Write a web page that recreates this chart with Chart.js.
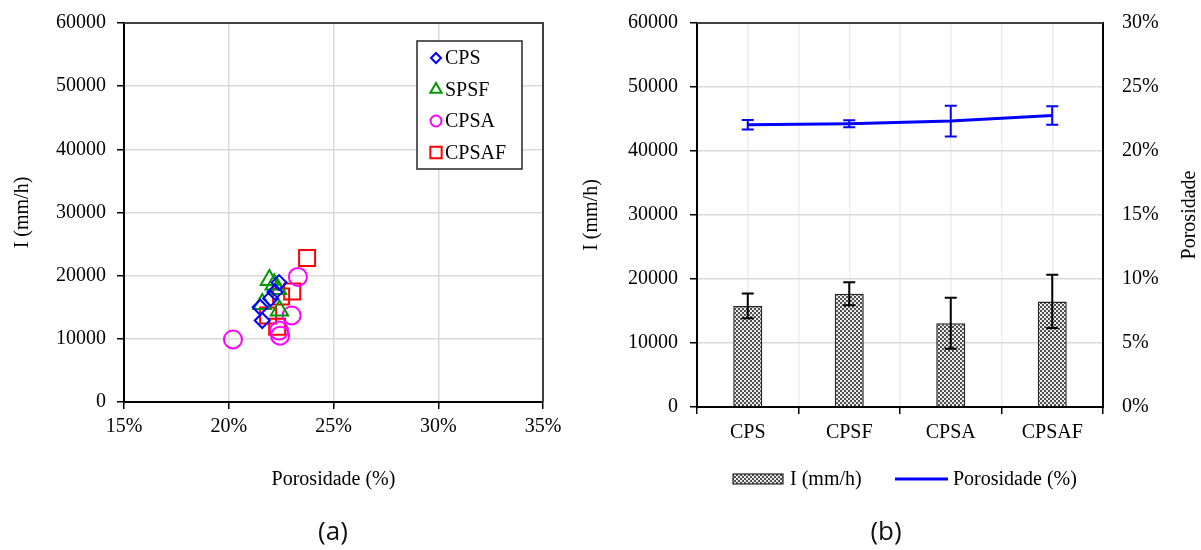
<!DOCTYPE html>
<html>
<head>
<meta charset="utf-8">
<script src="https://cdn.jsdelivr.net/npm/chart.js@4.4.1/dist/chart.umd.min.js"></script>
<style>
  html, body { margin: 0; padding: 0; background: #fff; }
  body { width: 1201px; height: 550px; position: relative; overflow: hidden; }
  .panel { position: absolute; top: 0; height: 550px; }
  #leftWrap { left: 0; width: 570px; }
  #rightWrap { left: 570px; width: 631px; }
  .caption { position: absolute; top: 512px; font-family: "Open Sans", sans-serif; font-size: 26px; color: #111; transform: translateX(-50%); }
</style>
</head>
<body>
<div class="panel" id="leftWrap"><canvas id="scatterChart" width="570" height="550"></canvas></div>
<div class="panel" id="rightWrap"><canvas id="barChart" width="631" height="550"></canvas></div>
<div class="caption" style="left:333px">(a)</div>
<div class="caption" style="left:886px">(b)</div>
<script>
// ---- (a) infiltration rate vs. porosity, per mix ----
const cpsPorosity   = [22.4, 22.2, 22.0, 21.5, 21.6];
const cpsRate       = [18900, 17400, 16400, 15000, 12900];
const spsfPorosity  = [21.94, 22.17, 22.33, 21.6, 22.42];
const spsfRate      = [19300, 18600, 17900, 15500, 14500];
const cpsaPorosity  = [20.2, 23.3, 23.0, 22.4, 22.45];
const cpsaRate      = [9900, 19800, 13700, 11300, 10500];
const cpsafPorosity = [23.74, 23.03, 22.5, 21.88, 22.31];
const cpsafRate     = [22800, 17500, 16700, 13700, 11900];

// ---- (b) mean values with standard deviation ----
const mixes          = ['CPS', 'CPSF', 'CPSA', 'CPSAF'];
const meanRate       = [15800, 17700, 13100, 16500];
const rateDev        = [1950, 1800, 3980, 4150];
const meanPorosity   = [22.05, 22.13, 22.34, 22.78];
const porosityDev    = [0.38, 0.28, 1.2, 0.72];

const rateTicks      = [0, 10000, 20000, 30000, 40000, 50000, 60000];
const porosityTicksA = [15, 20, 25, 30, 35];
const porosityTicksB = [0, 5, 10, 15, 20, 25, 30];

const FONT = { family: "'Liberation Serif', 'Times New Roman', serif", size: 20 };
const FONT_CSS = "20px 'Liberation Serif', 'Times New Roman', serif";
const GRID = '#d9d9d9';

function toPoints(xs, ys) { return xs.map((x, i) => ({ x: x, y: ys[i] })); }

// fixed axis width; tick-label padding must not push the plot area down
function fixedWidth(w) {
  return s => { s.width = w; s.paddingTop = 0; s.paddingBottom = 0; };
}

// hatched (checkerboard) fill used by the bars
function checkerPattern() {
  const c = document.createElement('canvas');
  c.width = 4; c.height = 4;
  const g = c.getContext('2d');
  g.fillStyle = '#ececec'; g.fillRect(0, 0, 4, 4);
  g.fillStyle = '#4d4d4d'; g.fillRect(0, 0, 2, 2); g.fillRect(2, 2, 2, 2);
  return g.createPattern(c, 'repeat');
}

// top and right frame lines of the plot area
const frame = {
  id: 'frame',
  afterDraw(chart, args, opts) {
    const a = chart.chartArea, ctx = chart.ctx;
    ctx.save();
    ctx.strokeStyle = opts.color || '#404040';
    ctx.lineWidth = 2;
    ctx.beginPath();
    ctx.moveTo(a.left, a.top); ctx.lineTo(a.right, a.top);
    if (opts.right) ctx.lineTo(a.right, a.bottom);
    ctx.stroke();
    ctx.restore();
  }
};

// vertical error bars with caps, read from dataset.errors
const errorBars = {
  id: 'errorBars',
  afterDatasetsDraw(chart) {
    const ctx = chart.ctx;
    chart.data.datasets.forEach((ds, i) => {
      if (!ds.errors) return;
      const meta = chart.getDatasetMeta(i);
      const scale = chart.scales[meta.yAxisID];
      ctx.save();
      ctx.strokeStyle = ds.errorColor;
      ctx.lineWidth = 2;
      meta.data.forEach((el, j) => {
        const v = ds.data[j], e = ds.errors[j];
        const top = scale.getPixelForValue(v + e);
        const bot = scale.getPixelForValue(v - e);
        const x = el.x, cap = 6;
        ctx.beginPath();
        ctx.moveTo(x, top); ctx.lineTo(x, bot);
        ctx.moveTo(x - cap, top); ctx.lineTo(x + cap, top);
        ctx.moveTo(x - cap, bot); ctx.lineTo(x + cap, bot);
        ctx.stroke();
      });
      ctx.restore();
    });
  }
};

// boxed legend inside the scatter plot
const boxedLegend = {
  id: 'boxedLegend',
  afterDraw(chart) {
    const ctx = chart.ctx;
    const x0 = 417, y0 = 41, w = 105, h = 128;
    ctx.save();
    ctx.fillStyle = '#fff';
    ctx.fillRect(x0, y0, w, h);
    ctx.strokeStyle = '#262626';
    ctx.lineWidth = 1.5;
    ctx.strokeRect(x0, y0, w, h);
    ctx.font = FONT_CSS;
    ctx.textBaseline = 'middle';
    chart.data.datasets.forEach((ds, i) => {
      const y = 58 + i * 31.5;
      ctx.fillStyle = 'rgba(0,0,0,0)';
      ctx.strokeStyle = ds.borderColor;
      ctx.lineWidth = 2;
      Chart.helpers.drawPoint(ctx, {
        pointStyle: ds.pointStyle, radius: ds.legendRadius, rotation: 0,
        borderWidth: 2
      }, 436, y);
      ctx.fillStyle = '#000';
      ctx.fillText(ds.label, 445, y + 1);
    });
    ctx.restore();
  }
};

const markerBase = { showLine: false, backgroundColor: 'rgba(0,0,0,0)', borderWidth: 2, pointBorderWidth: 2, pointHoverRadius: 0 };

new Chart(document.getElementById('scatterChart'), {
  type: 'scatter',
  data: {
    datasets: [
      Object.assign({ label: 'CPS', data: toPoints(cpsPorosity, cpsRate), borderColor: '#0000ff', pointStyle: 'rectRot', pointRadius: 7.5, legendRadius: 5 }, markerBase),
      Object.assign({ label: 'SPSF', data: toPoints(spsfPorosity, spsfRate), borderColor: '#009a00', pointStyle: 'triangle', pointRadius: 10, legendRadius: 6.5 }, markerBase),
      Object.assign({ label: 'CPSA', data: toPoints(cpsaPorosity, cpsaRate), borderColor: '#ff00ff', pointStyle: 'circle', pointRadius: 9, legendRadius: 5.5 }, markerBase),
      Object.assign({ label: 'CPSAF', data: toPoints(cpsafPorosity, cpsafRate), borderColor: '#ff0000', pointStyle: 'rect', pointRadius: 11.3, legendRadius: 8 }, markerBase)
    ]
  },
  options: {
    responsive: false,
    animation: false,
    layout: { padding: { top: 23, right: 27, left: 0, bottom: 0 } },
    plugins: { legend: { display: false }, tooltip: { enabled: false }, frame: { right: true } },
    scales: {
      x: {
        type: 'linear', min: porosityTicksA[0], max: porosityTicksA[porosityTicksA.length - 1],
        afterBuildTicks: s => { s.ticks = porosityTicksA.map(v => ({ value: v })); },
        afterFit: s => { s.height = 148; },
        ticks: { font: FONT, color: '#000', padding: 6, maxRotation: 0, callback: v => v + '%' },
        grid: { color: GRID, lineWidth: 1.5, tickColor: '#000', tickLength: 7 },
        border: { color: '#000', width: 2 },
        title: { display: true, text: 'Porosidade (%)', font: FONT, color: '#000', padding: { top: 0, bottom: 58 } }
      },
      y: {
        min: 0, max: 60000,
        afterBuildTicks: s => { s.ticks = rateTicks.map(v => ({ value: v })); },
        afterFit: fixedWidth(124),
        ticks: { font: FONT, color: '#000', padding: 11, callback: v => String(v) },
        grid: { color: GRID, lineWidth: 1.5, tickColor: '#000', tickLength: 7 },
        border: { color: '#000', width: 2 },
        title: { display: true, text: 'I (mm/h)', font: FONT, color: '#000', padding: { top: 11, bottom: 0 } }
      }
    }
  },
  plugins: [frame, boxedLegend]
});

// legend under the column chart, plus the right-hand axis title
const bottomLegend = {
  id: 'bottomLegend',
  afterDraw(chart) {
    const ctx = chart.ctx;
    const bars = chart.data.datasets[0], line = chart.data.datasets[1];
    const y = 479;
    ctx.save();
    ctx.fillStyle = bars.backgroundColor;
    ctx.fillRect(163, y - 5, 50, 10);
    ctx.strokeStyle = bars.borderColor;
    ctx.lineWidth = 1.2;
    ctx.strokeRect(163, y - 5, 50, 10);
    ctx.strokeStyle = line.borderColor;
    ctx.lineWidth = line.borderWidth;
    ctx.beginPath(); ctx.moveTo(325, y); ctx.lineTo(378, y); ctx.stroke();
    ctx.font = FONT_CSS;
    ctx.fillStyle = '#000';
    ctx.textBaseline = 'middle';
    ctx.fillText(bars.label, 220, y + 1);
    ctx.fillText(line.label, 383, y + 1);
    // right axis title, reading bottom-to-top
    const s = chart.scales.y1;
    ctx.translate(620, (s.top + s.bottom) / 2);
    ctx.rotate(-Math.PI / 2);
    ctx.textAlign = 'center';
    ctx.fillText('Porosidade', 0, 0);
    ctx.restore();
  }
};

const barCtx = document.getElementById('barChart').getContext('2d');
new Chart(barCtx, {
  data: {
    labels: mixes,
    datasets: [
      {
        type: 'bar', label: 'I (mm/h)', data: meanRate, errors: rateDev, errorColor: '#000',
        backgroundColor: checkerPattern(), borderColor: '#262626', borderWidth: 1.5,
        barPercentage: 0.286, categoryPercentage: 1, yAxisID: 'y', order: 2
      },
      {
        type: 'line', label: 'Porosidade (%)', data: meanPorosity, errors: porosityDev, errorColor: '#0000ff',
        borderColor: '#0000ff', borderWidth: 3, pointRadius: 0, tension: 0, fill: false,
        yAxisID: 'y1', order: 1
      }
    ]
  },
  options: {
    responsive: false,
    animation: false,
    layout: { padding: { top: 23, right: 0, left: 0, bottom: 0 } },
    plugins: { legend: { display: false }, tooltip: { enabled: false }, frame: { right: false } },
    scales: {
      x: {
        type: 'category', offset: true,
        afterFit: s => { s.height = 143; },
        ticks: { font: FONT, color: '#000', padding: 7, maxRotation: 0 },
        grid: { offset: true, drawOnChartArea: false, color: '#000', tickLength: 7, lineWidth: 1.5 },
        border: { color: '#000', width: 2 }
      },
      xg: {
        type: 'linear', position: 'bottom', min: -0.5, max: mixes.length - 0.5,
        afterBuildTicks: s => { s.ticks = mixes.flatMap((m, i) => [{ value: i - 0.5 }, { value: i }]); },
        afterFit: s => { s.height = 0; },
        ticks: { display: false },
        grid: { color: '#ececec', lineWidth: 1.5, drawTicks: false },
        border: { display: false }
      },
      y: {
        position: 'left', min: 0, max: 60000,
        afterBuildTicks: s => { s.ticks = rateTicks.map(v => ({ value: v })); },
        afterFit: fixedWidth(127),
        ticks: { font: FONT, color: '#000', padding: 12, callback: v => String(v) },
        grid: { color: GRID, lineWidth: 1.5, tickColor: '#000', tickLength: 7 },
        border: { color: '#000', width: 2 },
        title: { display: true, text: 'I (mm/h)', font: FONT, color: '#000', padding: { top: 10, bottom: 0 } }
      },
      y1: {
        position: 'right', min: 0, max: 30,
        afterBuildTicks: s => { s.ticks = porosityTicksB.map(v => ({ value: v })); },
        afterFit: fixedWidth(98),
        ticks: { font: FONT, color: '#000', padding: 19, callback: v => v + '%' },
        grid: { drawOnChartArea: false, drawTicks: false },
        border: { color: '#000', width: 2 }
      }
    }
  },
  plugins: [frame, errorBars, bottomLegend]
});
</script>
</body>
</html>
